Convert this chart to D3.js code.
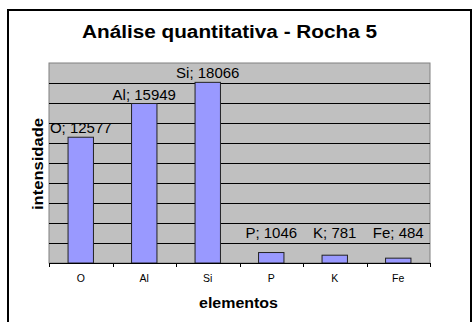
<!DOCTYPE html>
<html><head><meta charset="utf-8">
<script src="https://cdn.jsdelivr.net/npm/d3@7"></script>
<style>body{margin:0;background:#fff}svg{display:block}text{font-family:"Liberation Sans",Arial,sans-serif}</style>
</head><body>
<svg id="c" width="473" height="322"></svg>
<script>
const categories = ["O", "Al", "Si", "P", "K", "Fe"];
const values = [12577, 15949, 18066, 1046, 781, 484];
const yTicks = [0, 2000, 4000, 6000, 8000, 10000, 12000, 14000, 16000, 18000, 20000];
const title = "Análise quantitativa - Rocha 5";
const xTitle = "elementos";
const yTitle = "intensidade";

const svg = d3.select("#c");
const m = {left: 49, right: 430, top: 63, bottom: 263};

svg.append("rect").attr("x", 8).attr("y", 10).attr("width", 463).attr("height", 330)
  .attr("fill", "#fff").attr("stroke", "#000").attr("stroke-width", 2);

const x = d3.scaleBand().domain(categories).range([m.left, m.right]).paddingInner(0.6).paddingOuter(0.3);
const xb = d3.scaleBand().domain(categories).range([m.left, m.right]);
const y = d3.scaleLinear().domain([0, 20000]).range([m.bottom, m.top]);

svg.append("rect").attr("x", m.left).attr("y", m.top).attr("width", m.right - m.left).attr("height", m.bottom - m.top)
  .attr("fill", "#C0C0C0").attr("stroke", "#808080").attr("stroke-width", 1);

svg.append("g").selectAll("line").data(yTicks.filter(t => t > 0 && t < 20000)).join("line")
  .attr("x1", m.left).attr("x2", m.right).attr("y1", d => Math.round(y(d)) + 0.5).attr("y2", d => Math.round(y(d)) + 0.5)
  .attr("stroke", "#000").attr("stroke-width", 1);

svg.append("g").selectAll("rect").data(values).join("rect")
  .attr("x", (d, i) => x(categories[i]))
  .attr("y", d => y(d))
  .attr("width", x.bandwidth())
  .attr("height", d => m.bottom - y(d))
  .attr("fill", "#9999FF").attr("stroke", "#222").attr("stroke-width", 1);

// x axis
const ax = svg.append("g");
ax.append("line").attr("x1", m.left).attr("x2", m.right).attr("y1", m.bottom + 0.5).attr("y2", m.bottom + 0.5).attr("stroke", "#000");
const bounds = categories.map(c => xb(c)).concat([m.right]);
ax.selectAll("line.t").data(bounds).join("line").attr("class", "t")
  .attr("x1", d => Math.round(d) + 0.5).attr("x2", d => Math.round(d) + 0.5)
  .attr("y1", m.bottom).attr("y2", m.bottom + 4).attr("stroke", "#000");
ax.selectAll("text").data(categories).join("text")
  .attr("x", d => xb(d) + xb.bandwidth() / 2).attr("y", 282)
  .attr("text-anchor", "middle").attr("font-size", 10.5).attr("fill", "#000").text(d => d);

// data labels
svg.append("g").selectAll("text").data(values).join("text")
  .attr("x", (d, i) => x(categories[i]) + x.bandwidth() / 2)
  .attr("y", d => Math.min(y(d) - 4, y(2500)))
  .attr("text-anchor", "middle").attr("font-size", 15).attr("fill", "#000")
  .text((d, i) => categories[i] + "; " + d);

svg.append("text").attr("x", 229.5).attr("y", 38).attr("text-anchor", "middle")
  .attr("font-size", 18).attr("font-weight", "bold").attr("textLength", 295).attr("lengthAdjust", "spacingAndGlyphs").text(title);
svg.append("text").attr("x", 238.5).attr("y", 308).attr("text-anchor", "middle")
  .attr("font-size", 14).attr("font-weight", "bold").attr("textLength", 79).attr("lengthAdjust", "spacingAndGlyphs").text(xTitle);
svg.append("text").attr("transform", "translate(43,164) rotate(-90)").attr("text-anchor", "middle")
  .attr("font-size", 14).attr("font-weight", "bold").attr("textLength", 92).attr("lengthAdjust", "spacingAndGlyphs").text(yTitle);
</script>
</body></html>
